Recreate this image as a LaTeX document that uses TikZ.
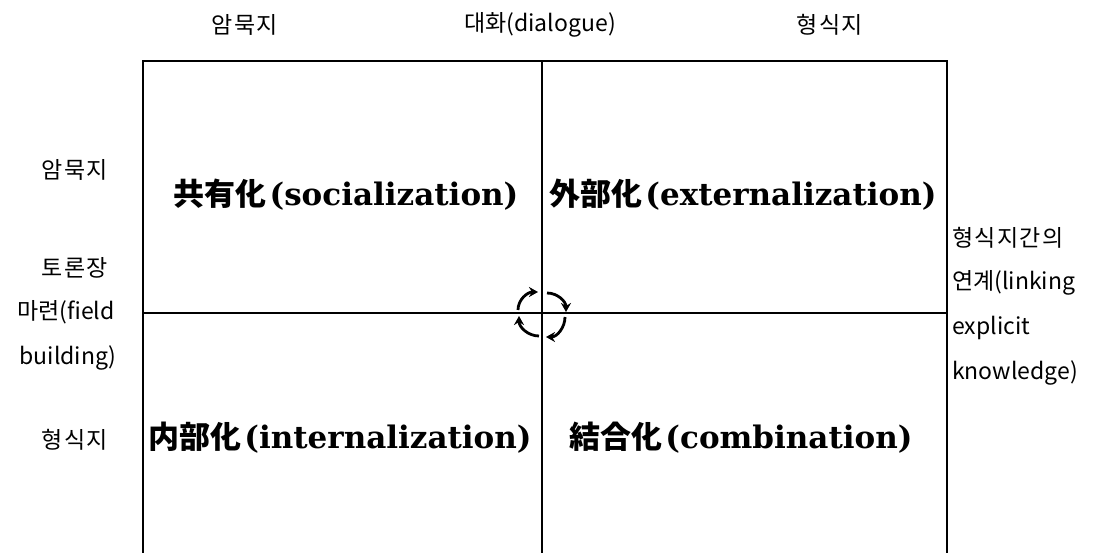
\documentclass[tikz,border=0pt]{standalone}
\usepackage{fontspec}
\usetikzlibrary{arrows.meta}
\setmainfont{Noto Sans CJK KR}
\newfontfamily\kr{Noto Sans CJK KR}
\newfontfamily\krl{Noto Sans CJK KR}[LetterSpace=6]
\newfontfamily\qlat{DejaVu Serif}
\newcommand\qlabel[2]{{\kr\bfseries #1}\kern3pt{\qlat\bfseries(#2)}}
\tikzset{
  lbl/.style={font=\kr\fontsize{23}{28}\selectfont, inner sep=0pt},
  quad/.style={font=\fontsize{31}{36}\selectfont, inner sep=0pt},
  gridline/.style={line width=2pt, line cap=rect},
  cyc/.style={line width=2.8pt, -{Stealth[length=9pt,width=10pt]}}
}
\begin{document}
\begin{tikzpicture}[x=1pt,y=-1pt]
\useasboundingbox (0,0) rectangle (1100,553);
\fill[white] (0,0) rectangle (1100,553);
% grid corners
\coordinate (tl) at (143,61);
\coordinate (tm) at (542,61);
\coordinate (tr) at (947,61);
\coordinate (bl) at (143,553);
\coordinate (bm) at (542,553);
\coordinate (br) at (947,553);
\coordinate (ml) at (143,313);
\coordinate (mr) at (947,313);
\draw[gridline] (bl) -- (tl) -- (tr) -- (br);
\draw[gridline] (tm) -- (bm);
\draw[gridline] (ml) -- (mr);
% top labels
\node[lbl] (t1) at (245,25) {{\krl 암묵지}};
\node[lbl] (t2) at (540,25) {대화(dialogue)};
\node[lbl] (t3) at (830,25) {{\krl 형식지}};
% left labels
\node[lbl] (l1) at (75,170) {{\krl 암묵지}};
\node[lbl] (l2) at (75,268) {{\krl 토론장}};
\node[lbl] (l3) at (66,312) {마련(field};
\node[lbl] (l4) at (68,358) {building)};
\node[lbl] (l5) at (75,440) {{\krl 형식지}};
% right labels
\node[lbl, anchor=west] (r1) at (952,238) {{\krl 형식지간의}};
\node[lbl, anchor=west] (r2) at (952,283) {연계(linking};
\node[lbl, anchor=west] (r3) at (952,328) {explicit};
\node[lbl, anchor=west] (r4) at (952,373) {knowledge)};
% quadrant labels
\node[quad] (q1) at (346,195) {\qlabel{共有化}{socialization}};
\node[quad] (q2) at (743,195) {\qlabel{外部化}{externalization}};
\node[quad] (q3) at (340,438) {\qlabel{内部化}{internalization}};
\node[quad] (q4) at (741,438) {\qlabel{結合化}{combination}};
% cycle arrows
\coordinate (a1s) at (518,310);
\coordinate (a1e) at (538,292);
\coordinate (a2s) at (547,293);
\coordinate (a2e) at (566,312);
\coordinate (a3s) at (565,317);
\coordinate (a3e) at (546,337);
\coordinate (a4s) at (539,336);
\coordinate (a4e) at (519,316);
\draw[cyc] (a1s) to[out=90,in=180] (a1e);
\draw[cyc] (a2s) to[out=0,in=90] (a2e);
\draw[cyc] (a3s) to[out=-90,in=0] (a3e);
\draw[cyc] (a4s) to[out=180,in=-90] (a4e);
\end{tikzpicture}
\end{document}
